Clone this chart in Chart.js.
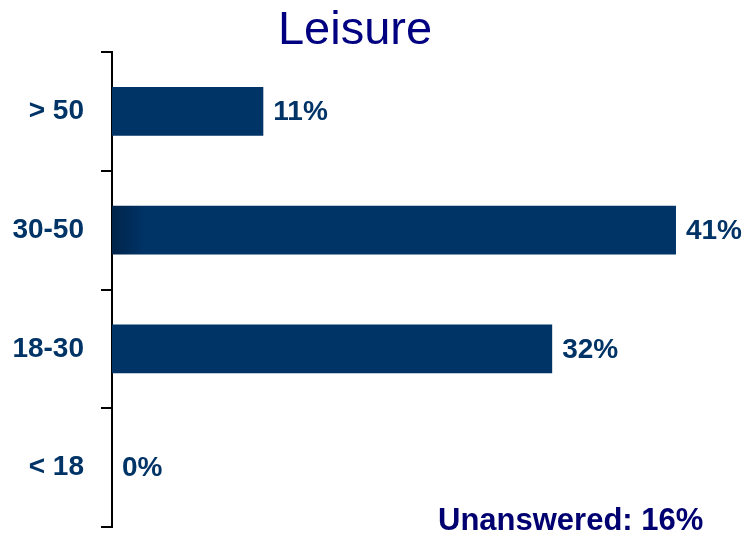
<!DOCTYPE html>
<html>
<head>
<meta charset="utf-8">
<script src="https://cdn.jsdelivr.net/npm/chart.js@4/dist/chart.umd.min.js"></script>
<style>
  html, body { margin: 0; padding: 0; background: #ffffff; }
  canvas { display: block; }
</style>
</head>
<body>
<canvas id="chart" width="749" height="534"></canvas>
<script>
// Age groups, top to bottom
const categories = ['> 50', '30-50', '18-30', '< 18'];
// Share of respondents per age group (%)
const shares = [11, 41, 32, 0];
// Respondents who gave no answer (%)
const unanswered = 16;
const titleText = 'Leisure';
const xMax = 45;

const FONT = "'Liberation Sans', Arial, Helvetica, sans-serif";
const BAR_COLOR = '#003366';
const LABEL_COLOR = '#003366';
const TITLE_COLOR = '#000080';
const NOTE_COLOR = '#000070';

// Title, value labels and the "Unanswered" note
const annotations = {
  id: 'annotations',
  afterDatasetsDraw(chart) {
    const ctx = chart.ctx;
    ctx.save();
    // value labels at the end of each bar
    ctx.font = 'bold 28px ' + FONT;
    ctx.fillStyle = LABEL_COLOR;
    ctx.textAlign = 'left';
    ctx.textBaseline = 'middle';
    const meta = chart.getDatasetMeta(0);
    meta.data.forEach((bar, i) => {
      ctx.fillText(shares[i] + '%', bar.x + 10, bar.y + 1);
    });
    // title
    ctx.font = '47px ' + FONT;
    ctx.fillStyle = TITLE_COLOR;
    ctx.textAlign = 'center';
    ctx.textBaseline = 'alphabetic';
    ctx.fillText(titleText, 355, 44);
    // unanswered note
    ctx.font = 'bold 31px ' + FONT;
    ctx.fillStyle = NOTE_COLOR;
    ctx.textAlign = 'left';
    ctx.fillText('Unanswered: ' + unanswered + '%', 438, 530);
    ctx.restore();
  }
};

new Chart(document.getElementById('chart'), {
  type: 'bar',
  data: {
    labels: categories,
    datasets: [{
      data: shares,
      backgroundColor(c) {
        const area = c.chart.chartArea;
        if (c.dataIndex !== 1 || !area) return BAR_COLOR;
        const g = c.chart.ctx.createLinearGradient(area.left, 0, area.left + 32, 0);
        g.addColorStop(0, '#00244a');
        g.addColorStop(1, BAR_COLOR);
        return g;
      },
      borderWidth: 0,
      categoryPercentage: 1,
      barPercentage: 0.41
    }]
  },
  options: {
    indexAxis: 'y',
    responsive: false,
    animation: false,
    devicePixelRatio: 1,
    layout: { padding: { top: 52, bottom: 7, left: 0, right: 18 } },
    plugins: {
      legend: { display: false },
      title: { display: false },
      tooltip: { enabled: false }
    },
    scales: {
      x: { display: false, min: 0, max: xMax },
      y: {
        position: 'left',
        afterFit(scale) {
          scale.width = 112;
          scale.paddingTop = 0;
          scale.paddingBottom = 0;
        },
        grid: {
          display: true,
          offset: true,
          drawOnChartArea: false,
          drawTicks: true,
          tickLength: 11,
          color: '#000000',
          lineWidth: 2
        },
        border: { display: true, color: '#000000', width: 2 },
        ticks: {
          color: LABEL_COLOR,
          padding: 17,
          font: { family: FONT, size: 28, weight: 'bold' }
        }
      }
    }
  },
  plugins: [annotations]
});
</script>
</body>
</html>
